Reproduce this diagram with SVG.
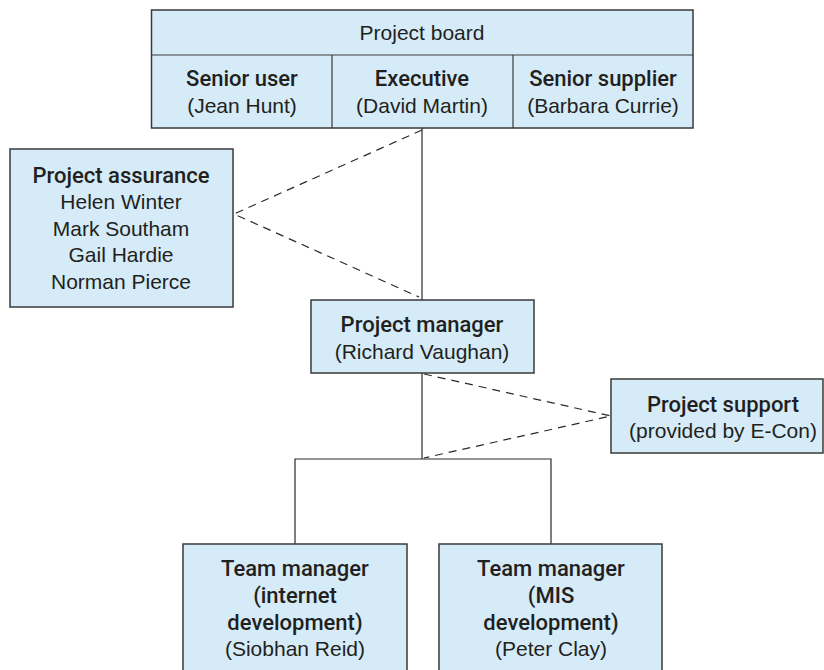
<svg xmlns="http://www.w3.org/2000/svg" width="824" height="670" viewBox="0 0 824 670">
<style>
.box{fill:#d5ebf8;stroke:#3a3a3a;stroke-width:1.5}
.div{stroke:#3a3a3a;stroke-width:1.2;fill:none}
.ln{stroke:#2a2a2a;stroke-width:1.2;fill:none}
.dash{stroke:#2a2a2a;stroke-width:1.2;fill:none;stroke-dasharray:8 6}
text{font-family:"Liberation Sans",Arial,sans-serif;font-size:21px;fill:#231f20;text-anchor:middle}
.h{font-family:Roboto,"Liberation Sans",sans-serif;font-weight:500;font-size:22px}
</style>
<g id="connectors">
<line class="ln" x1="422" y1="128" x2="422" y2="300"/>
<line class="ln" x1="422" y1="373" x2="422" y2="459"/>
<polyline class="ln" points="295,544 295,459 551,459 551,544"/>
<polyline class="dash" points="422,130 234,214 419,297"/>
<polyline class="dash" points="424,374 611,416 424,458"/>
</g>
<g id="project-board">
<rect class="box" x="151.5" y="10" width="541.5" height="118"/>
<line class="div" x1="151" y1="55" x2="693" y2="55"/>
<line class="div" x1="332" y1="55" x2="332" y2="128"/>
<line class="div" x1="513" y1="55" x2="513" y2="128"/>
<text x="422" y="40">Project board</text>
<text class="h" x="242" y="86">Senior user</text>
<text x="242" y="113">(Jean Hunt)</text>
<text class="h" x="422" y="86">Executive</text>
<text x="422" y="113">(David Martin)</text>
<text class="h" x="603" y="86">Senior supplier</text>
<text x="603" y="113">(Barbara Currie)</text>
</g>
<g id="project-assurance">
<rect class="box" x="10" y="149" width="223" height="158"/>
<text class="h" x="121" y="183">Project assurance</text>
<text x="121" y="209">Helen Winter</text>
<text x="121" y="236">Mark Southam</text>
<text x="121" y="262">Gail Hardie</text>
<text x="121" y="289">Norman Pierce</text>
</g>
<g id="project-manager">
<rect class="box" x="311" y="300" width="223" height="73"/>
<text class="h" x="422" y="332">Project manager</text>
<text x="422" y="359">(Richard Vaughan)</text>
</g>
<g id="project-support">
<rect class="box" x="611" y="379" width="212" height="74"/>
<text class="h" x="723" y="412">Project support</text>
<text x="723" y="438">(provided by E-Con)</text>
</g>
<g id="team-internet">
<rect class="box" x="183" y="544" width="224" height="136"/>
<text class="h" x="295" y="576">Team manager</text>
<text class="h" x="295" y="603">(internet</text>
<text class="h" x="295" y="630">development)</text>
<text x="295" y="656">(Siobhan Reid)</text>
</g>
<g id="team-mis">
<rect class="box" x="439" y="544" width="223" height="136"/>
<text class="h" x="551" y="576">Team manager</text>
<text class="h" x="551" y="603">(MIS</text>
<text class="h" x="551" y="630">development)</text>
<text x="551" y="656">(Peter Clay)</text>
</g>
</svg>
